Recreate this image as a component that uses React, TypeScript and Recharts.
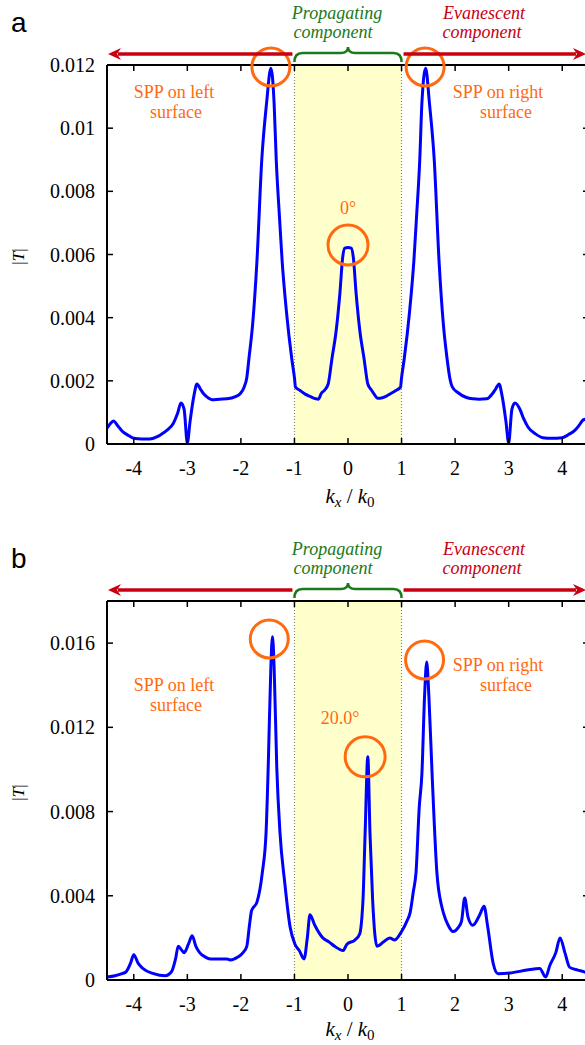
import React from "react";
import {
  LineChart,
  Line,
  XAxis,
  YAxis,
  ReferenceArea,
  ReferenceLine,
  ReferenceDot
} from "recharts";

// spectrum at normal incidence (0°)
const kA = [
  -4.5, -4.44, -4.38, -4.3, -4.22, -4.1, -4.0, -3.85, -3.7, -3.55, -3.45, -3.35,
  -3.26, -3.18, -3.12, -3.06, -3.0, -2.95, -2.88, -2.82, -2.76, -2.7, -2.6, -2.54,
  -2.4, -2.26, -2.1, -2.01, -1.94, -1.89, -1.85, -1.78, -1.7, -1.61, -1.52, -1.44,
  -1.38, -1.34, -1.28, -1.23, -1.15, -1.05, -1.0, -0.98, -0.9, -0.8, -0.7, -0.6,
  -0.55, -0.5, -0.44, -0.37, -0.3, -0.22, -0.15, -0.1, -0.06, 0,
  0.06, 0.1, 0.15, 0.22, 0.3, 0.37, 0.44, 0.5, 0.55, 0.6, 0.7, 0.8, 0.9, 0.98,
  1.0, 1.05, 1.15, 1.23, 1.28, 1.34, 1.38, 1.45, 1.52, 1.61, 1.7, 1.78, 1.85,
  1.9, 1.95, 2.05, 2.2, 2.33, 2.45, 2.59, 2.7, 2.76, 2.82, 2.88, 2.95, 3.0,
  3.06, 3.12, 3.21, 3.28, 3.36, 3.5, 3.64, 3.8, 4.0, 4.12, 4.24, 4.32, 4.39, 4.5
];
const tA = [
  0.0005, 0.00064, 0.00073, 0.00058, 0.00041, 0.00027, 0.00018, 0.00016, 0.00016,
  0.00024, 0.00035, 0.00048, 0.00066, 0.00098, 0.0013, 0.0011, 0.00003, 0.0007,
  0.0015, 0.0019, 0.00175, 0.0016, 0.00145, 0.0014, 0.00142, 0.00143, 0.0015,
  0.0016, 0.0018, 0.0021, 0.0027, 0.0038, 0.0058, 0.009, 0.0108, 0.0119, 0.0108,
  0.009, 0.0072, 0.0058, 0.0042, 0.0027, 0.0021, 0.0018, 0.0017, 0.00158, 0.0015,
  0.00143, 0.00142, 0.0016, 0.0017, 0.0019, 0.0027, 0.0036, 0.0048, 0.0059,
  0.0062, 0.00622,
  0.0062, 0.0059, 0.0048, 0.0036, 0.0027, 0.0019, 0.0017, 0.00155, 0.00145,
  0.00145, 0.0015, 0.0016, 0.0017, 0.0018, 0.0021, 0.0027, 0.0042, 0.0058, 0.0072,
  0.009, 0.0108, 0.0119, 0.0108, 0.009, 0.0058, 0.0038, 0.0027, 0.0021, 0.0018,
  0.00163, 0.00148, 0.00143, 0.00142, 0.00143, 0.0016, 0.00175, 0.0019, 0.0015,
  0.0007, 0.00003, 0.0011, 0.0013, 0.0011, 0.0008, 0.00054, 0.00032, 0.0002,
  0.00018, 0.0002, 0.0003, 0.00044, 0.0006, 0.00076, 0.0008
];

// spectrum at 20° incidence
const kB = [
  -4.5, -4.35, -4.22, -4.14, -4.06, -4.0, -3.92, -3.84, -3.63, -3.41, -3.33, -3.28,
  -3.22, -3.17, -3.1, -3.06, -2.98, -2.91, -2.84, -2.77, -2.67, -2.57, -2.4, -2.26,
  -2.2, -2.05, -1.96, -1.89, -1.84, -1.8, -1.7, -1.6, -1.53, -1.49, -1.44, -1.41,
  -1.38, -1.33, -1.27, -1.18, -1.08, -0.99, -0.91, -0.82, -0.76, -0.71, -0.62,
  -0.47, -0.35, -0.25, -0.09, -0.02, 0.13, 0.22, 0.26, 0.28, 0.32, 0.37, 0.41,
  0.46, 0.5, 0.54, 0.66, 0.78, 0.87, 1.0, 1.1, 1.16, 1.22, 1.27, 1.33, 1.38, 1.43,
  1.47, 1.51, 1.57, 1.66, 1.75, 1.78, 1.87, 1.96, 2.06, 2.12, 2.18, 2.24, 2.33,
  2.46, 2.54, 2.61, 2.71, 2.8, 3.02, 3.34, 3.58, 3.69, 3.77, 3.88, 3.96, 4.05,
  4.14, 4.29, 4.4, 4.5
];
const tB = [
  0.00014, 0.0002, 0.0003, 0.0004, 0.0008, 0.0012, 0.0008, 0.00057, 0.0003, 0.0002,
  0.0003, 0.00047, 0.001, 0.0016, 0.0014, 0.0013, 0.0017, 0.0021, 0.0016, 0.0013,
  0.0011, 0.001, 0.001, 0.001, 0.00095, 0.0011, 0.0013, 0.0016, 0.0026, 0.0033,
  0.0037, 0.0051, 0.007, 0.0101, 0.0149, 0.0163, 0.0149, 0.0101, 0.007, 0.0046,
  0.0025, 0.0017, 0.0014, 0.001, 0.002, 0.0031, 0.0026, 0.002, 0.0018, 0.0016,
  0.0014, 0.0017, 0.0019, 0.0022, 0.003, 0.0038, 0.007, 0.0106, 0.007, 0.0038,
  0.0022, 0.0016, 0.0018, 0.002, 0.0019, 0.0023, 0.0028, 0.0032, 0.0042, 0.0051,
  0.0082, 0.0098, 0.0135, 0.0151, 0.0135, 0.0098, 0.0051, 0.0035, 0.0032, 0.0026,
  0.0023, 0.0025, 0.0028, 0.0039, 0.003, 0.0026, 0.0031, 0.0035, 0.0025, 0.0008,
  0.0003, 0.00033, 0.00047, 0.00055, 0.00014, 0.0007, 0.0013, 0.002, 0.0013,
  0.0006, 0.00047, 0.0004, 0.0003
];

const kTicks = [-4, -3, -2, -1, 0, 1, 2, 3, 4];
const yTicksA = [0, 0.002, 0.004, 0.006, 0.008, 0.01, 0.012];
const yTicksB = [0, 0.004, 0.008, 0.012, 0.016];

// circled peaks: [k, |T|]
const peaksA = [[-1.44, 0.01194], [0, 0.0063], [1.44, 0.01194]];
const peaksB = [[-1.47, 0.0162], [0.32, 0.0106], [1.43, 0.0152]];

const SERIF = "Liberation Serif, Tinos, DejaVu Serif, Times New Roman, serif";
const SANS = "Liberation Sans, Arimo, DejaVu Sans, Arial, sans-serif";
const ORANGE = "#ff6a10";
const RED = "#c80010";
const GREEN = "#1a7a1a";

// plot box inside each chart
const W = 620;
const H = 520;
const LEFT = 107;
const RIGHT = 589;
const TOP = 65;
const BOTTOM = 444;
const px = (k: number) => LEFT + ((k + 4.5) / 9) * (RIGHT - LEFT);

const BottomTick = (p: any) => (
  <g>
    <line x1={p.x} x2={p.x} y1={p.y} y2={p.y - 6} stroke="#000" strokeWidth={1.5} />
    <text x={p.x} y={p.y + 31} textAnchor="middle" fontSize={20} style={{ fontFamily: SERIF }} fill="#000">
      {p.payload.value}
    </text>
  </g>
);

const TopTick = (p: any) => (
  <line x1={p.x} x2={p.x} y1={p.y} y2={p.y + 6} stroke="#000" strokeWidth={1.5} />
);

const LeftTick = (p: any) => (
  <g>
    <line x1={p.x} x2={p.x + 6} y1={p.y} y2={p.y} stroke="#000" strokeWidth={1.5} />
    <text x={p.x - 12} y={p.y + 7} textAnchor="end" fontSize={20} style={{ fontFamily: SERIF }} fill="#000">
      {String(p.payload.value)}
    </text>
  </g>
);

const RightTick = (p: any) => (
  <line x1={p.x} x2={p.x - 6} y1={p.y} y2={p.y} stroke="#000" strokeWidth={1.5} />
);

function Panel({ ks, ts, yMax, yTicks, peaks, top }: any) {
  const rows = ks.map((k: number, i: number) => ({ k, t: ts[i] }));
  return (
    <div style={{ position: "absolute", left: 0, top }}>
      <LineChart
        width={W}
        height={H}
        data={rows}
        margin={{ top: TOP - 20, right: W - RIGHT - 20, bottom: H - BOTTOM - 30, left: LEFT - 60 }}
      >
        <XAxis
          dataKey="k"
          type="number"
          domain={[-4.5, 4.5]}
          ticks={kTicks}
          allowDataOverflow
          height={30}
          tickSize={0}
          tickMargin={0}
          tickLine={false}
          tick={BottomTick}
          axisLine={{ stroke: "#000", strokeWidth: 2 }}
        />
        <XAxis
          xAxisId="top"
          orientation="top"
          dataKey="k"
          type="number"
          domain={[-4.5, 4.5]}
          ticks={kTicks}
          allowDataOverflow
          height={20}
          tickSize={0}
          tickMargin={0}
          tickLine={false}
          tick={TopTick}
          axisLine={{ stroke: "#000", strokeWidth: 2 }}
        />
        <YAxis
          type="number"
          domain={[0, yMax]}
          ticks={yTicks}
          allowDataOverflow
          width={60}
          tickSize={0}
          tickMargin={0}
          tickLine={false}
          tick={LeftTick}
          axisLine={{ stroke: "#000", strokeWidth: 2 }}
        />
        <YAxis
          yAxisId="right"
          orientation="right"
          type="number"
          domain={[0, yMax]}
          ticks={yTicks}
          allowDataOverflow
          width={20}
          tickSize={0}
          tickMargin={0}
          tickLine={false}
          tick={RightTick}
          axisLine={{ stroke: "#000", strokeWidth: 2 }}
        />
        <ReferenceArea x1={-1} x2={1} fill="#ffffcc" fillOpacity={1} stroke="none" />
        <ReferenceLine x={-1} stroke="#777" strokeDasharray="1 2" />
        <ReferenceLine x={1} stroke="#777" strokeDasharray="1 2" />
        <Line
          dataKey="t"
          type="monotone"
          stroke="#0000ff"
          strokeWidth={3}
          dot={false}
          isAnimationActive={false}
        />
        {peaks.map((p: number[], i: number) => (
          <ReferenceDot
            key={i}
            x={p[0]}
            y={p[1]}
            r={i === 1 ? 20 : 19}
            fill="none"
            stroke={ORANGE}
            strokeWidth={3}
            ifOverflow="visible"
          />
        ))}
      </LineChart>
    </div>
  );
}

function Notes({ y0, letter, angle, angleX, angleY, leftY, rightY, labelY }: any) {
  const a = y0 + 54; // arrow row
  const l = px(-1);
  const r = px(1);
  const m = px(0);
  const mid = y0 + (TOP + BOTTOM) / 2 + 2;
  return (
    <g style={{ fontFamily: SERIF }}>
      <text x={11} y={y0 + 32} fontSize={28} style={{ fontFamily: SANS }}>
        {letter}
      </text>

      <text fill={GREEN} fontStyle="italic" fontSize={18} textAnchor="middle">
        <tspan x={m - 11} y={y0 + 19}>Propagating</tspan>
        <tspan x={m - 15} y={y0 + 38}>component</tspan>
      </text>
      <text fill={RED} fontStyle="italic" fontSize={18} textAnchor="middle">
        <tspan x={484} y={y0 + 19}>Evanescent</tspan>
        <tspan x={482} y={y0 + 38}>component</tspan>
      </text>

      <line x1={l - 2} x2={118} y1={a} y2={a} stroke={RED} strokeWidth={3.5} />
      <polygon points={`108,${a} 121,${a - 6} 117,${a} 121,${a + 6}`} fill={RED} />
      <line x1={r + 2} x2={576} y1={a} y2={a} stroke={RED} strokeWidth={3.5} />
      <polygon points={`586,${a} 573,${a - 6} 577,${a} 573,${a + 6}`} fill={RED} />

      <path
        d={`M ${l} ${a + 8} Q ${l} ${a - 1} ${l + 8} ${a - 1} L ${m - 7} ${a - 1} Q ${m} ${a - 1} ${m} ${a - 7} Q ${m} ${a - 1} ${m + 7} ${a - 1} L ${r - 8} ${a - 1} Q ${r} ${a - 1} ${r} ${a + 8}`}
        fill="none"
        stroke={GREEN}
        strokeWidth={2.5}
      />

      <text fill={ORANGE} fontSize={18} textAnchor="middle">
        <tspan x={174} y={leftY}>SPP on left</tspan>
        <tspan x={176} y={leftY + 20}>surface</tspan>
      </text>
      <text fill={ORANGE} fontSize={18} textAnchor="middle">
        <tspan x={498} y={rightY}>SPP on right</tspan>
        <tspan x={506} y={rightY + 20}>surface</tspan>
      </text>
      <text x={angleX} y={angleY} fill={ORANGE} fontSize={18} textAnchor="middle">
        {angle}
      </text>

      <text x={24} y={mid} fontSize={17} textAnchor="middle" transform={`rotate(-90 24 ${mid})`}>
        |<tspan fontStyle="italic">T</tspan>|
      </text>

      <text x={m + 2} y={labelY} fontSize={21} textAnchor="middle">
        <tspan fontStyle="italic">k</tspan>
        <tspan fontStyle="italic" fontSize={15} dy={4}>x</tspan>
        <tspan dy={-4}> / </tspan>
        <tspan fontStyle="italic">k</tspan>
        <tspan fontSize={15} dy={4}>0</tspan>
      </text>
    </g>
  );
}

export default function App() {
  const offB = 536;
  return (
    <div style={{ position: "absolute", left: 0, top: 0, width: 585, height: 1045, overflow: "hidden", background: "#fff" }}>
      <Panel ks={kA} ts={tA} yMax={0.012} yTicks={yTicksA} peaks={peaksA} top={0} />
      <Panel ks={kB} ts={tB} yMax={0.018} yTicks={yTicksB} peaks={peaksB} top={offB} />
      <svg
        width={585}
        height={1045}
        style={{ position: "absolute", left: 0, top: 0, pointerEvents: "none" }}
      >
        <Notes y0={0} letter="a" angle="0°" angleX={348} angleY={214} leftY={98} rightY={98} labelY={503} />
        <Notes y0={offB} letter="b" angle="20.0°" angleX={340} angleY={724} leftY={691} rightY={671} labelY={1036} />
      </svg>
    </div>
  );
}
